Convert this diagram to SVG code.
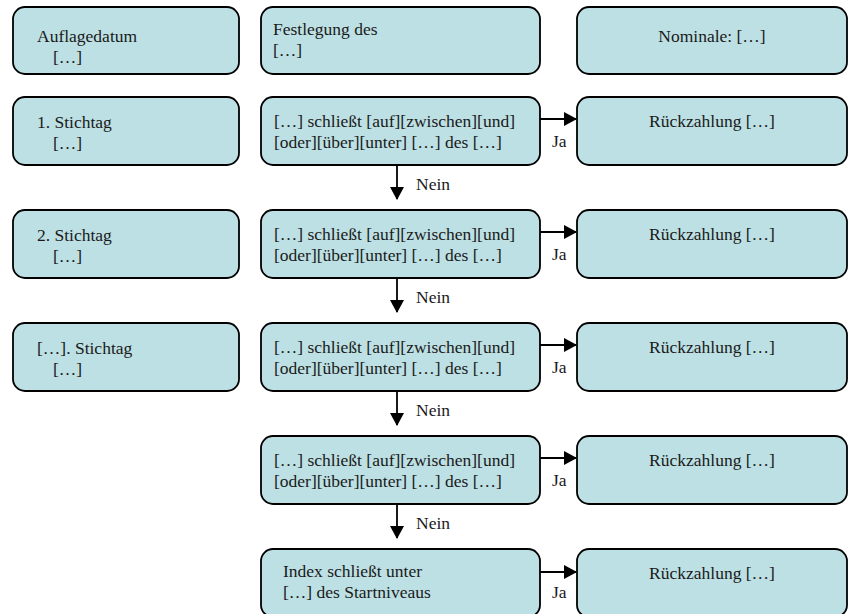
<svg xmlns="http://www.w3.org/2000/svg" width="848" height="614" viewBox="0 0 848 614" font-family="'Liberation Serif', 'Times New Roman', Times, serif" font-size="17.5">
<style>
.box{fill:#bde0e4;stroke:#000;stroke-width:1.8}
text{font-family:'Liberation Serif','Times New Roman',Times,serif;font-size:17.5px;fill:#1a1a1a}
.c{text-anchor:middle}
.ln{stroke:#000;stroke-width:1.8;fill:none}
</style>
<defs>
<marker id="ah" markerWidth="14" markerHeight="14" refX="12" refY="7" orient="auto" markerUnits="userSpaceOnUse">
<path d="M0,0 L13,7 L0,14 Z" fill="#000"/>
</marker>
</defs>
<rect width="848" height="614" fill="#fff"/>
<g id="auflagedatum"><rect class="box" x="13" y="7" width="226" height="67" rx="12"/><text x="37" y="42">Auflagedatum</text><text x="53" y="63">[…]</text></g>
<g id="festlegung"><rect class="box" x="261" y="7" width="279" height="67" rx="12"/><text x="273" y="35">Festlegung des</text><text x="273" y="56">[…]</text></g>
<g id="nominale"><rect class="box" x="577" y="7" width="270" height="67" rx="12"/><text class="c" x="712" y="42">Nominale: […]</text></g>

<g id="stichtag1"><rect class="box" x="13" y="97" width="226" height="68" rx="12"/><text x="37" y="128">1. Stichtag</text><text x="53" y="149">[…]</text></g>
<g id="stichtag2"><rect class="box" x="13" y="210" width="226" height="68" rx="12"/><text x="37" y="241">2. Stichtag</text><text x="53" y="262">[…]</text></g>
<g id="stichtagN"><rect class="box" x="13" y="323" width="226" height="68" rx="12"/><text x="37" y="354">[…]. Stichtag</text><text x="53" y="375">[…]</text></g>

<g id="cond1"><rect class="box" x="261" y="97" width="279" height="68" rx="12"/><text x="274" y="127">[…] schließt [auf][zwischen][und]</text><text x="274" y="148">[oder][über][unter] […] des […]</text></g>
<g id="cond2"><rect class="box" x="261" y="210" width="279" height="68" rx="12"/><text x="274" y="240">[…] schließt [auf][zwischen][und]</text><text x="274" y="261">[oder][über][unter] […] des […]</text></g>
<g id="cond3"><rect class="box" x="261" y="323" width="279" height="68" rx="12"/><text x="274" y="353">[…] schließt [auf][zwischen][und]</text><text x="274" y="374">[oder][über][unter] […] des […]</text></g>
<g id="cond4"><rect class="box" x="261" y="436" width="279" height="68" rx="12"/><text x="274" y="466">[…] schließt [auf][zwischen][und]</text><text x="274" y="487">[oder][über][unter] […] des […]</text></g>
<g id="index"><rect class="box" x="261" y="549" width="279" height="68" rx="12"/><text x="283" y="577">Index schließt unter</text><text x="283" y="598">[…] des Startniveaus</text></g>

<g id="rueck1"><rect class="box" x="577" y="97" width="270" height="68" rx="12"/><text class="c" x="712" y="127">Rückzahlung […]</text></g>
<g id="rueck2"><rect class="box" x="577" y="210" width="270" height="68" rx="12"/><text class="c" x="712" y="240">Rückzahlung […]</text></g>
<g id="rueck3"><rect class="box" x="577" y="323" width="270" height="68" rx="12"/><text class="c" x="712" y="353">Rückzahlung […]</text></g>
<g id="rueck4"><rect class="box" x="577" y="436" width="270" height="68" rx="12"/><text class="c" x="712" y="466">Rückzahlung […]</text></g>
<g id="rueck5"><rect class="box" x="577" y="549" width="270" height="68" rx="12"/><text class="c" x="712" y="579">Rückzahlung […]</text></g>

<g id="connectors">
<line class="ln" x1="540" y1="119" x2="576" y2="119" marker-end="url(#ah)"/>
<line class="ln" x1="540" y1="232" x2="576" y2="232" marker-end="url(#ah)"/>
<line class="ln" x1="540" y1="345" x2="576" y2="345" marker-end="url(#ah)"/>
<line class="ln" x1="540" y1="458" x2="576" y2="458" marker-end="url(#ah)"/>
<line class="ln" x1="540" y1="572" x2="576" y2="572" marker-end="url(#ah)"/>
<text x="552" y="147">Ja</text>
<text x="552" y="260">Ja</text>
<text x="552" y="373">Ja</text>
<text x="552" y="486">Ja</text>
<text x="552" y="598">Ja</text>
<line class="ln" x1="397" y1="165" x2="397" y2="199" marker-end="url(#ah)"/>
<line class="ln" x1="397" y1="278" x2="397" y2="312" marker-end="url(#ah)"/>
<line class="ln" x1="397" y1="391" x2="397" y2="425" marker-end="url(#ah)"/>
<line class="ln" x1="397" y1="504" x2="397" y2="538" marker-end="url(#ah)"/>
<text x="416" y="190">Nein</text>
<text x="416" y="303">Nein</text>
<text x="416" y="416">Nein</text>
<text x="416" y="529">Nein</text>
</g>
</svg>
